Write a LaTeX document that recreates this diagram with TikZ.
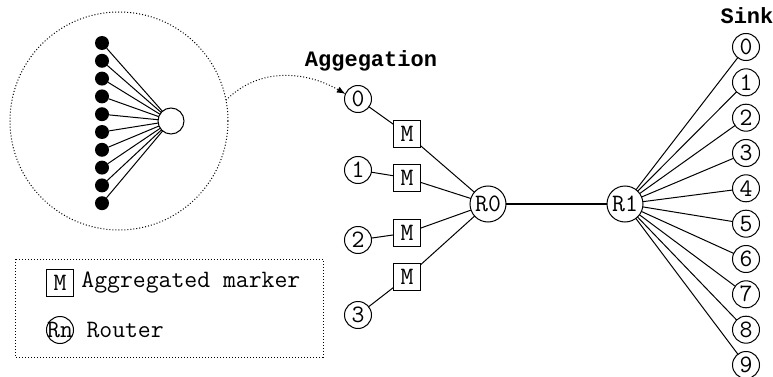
\documentclass[tikz,border=0pt]{standalone}
\usepackage{fontspec}
\newfontfamily\headfont{Liberation Mono}
\usetikzlibrary{positioning}

\begin{document}
\begin{tikzpicture}[x=0.5pt, y=0.5pt, line width=0.5pt]
\tikzset{ >=latex, inner sep=0pt, outer sep=0pt,
  every node/.style={font=\ttfamily\fontsize{12.5}{14}\selectfont},
  head/.style={font=\headfont\bfseries\fontsize{11}{13}\selectfont},
  leaf/.style={draw, circle, minimum size=13.5pt},
  router/.style={draw, circle, minimum size=18pt},
  marker/.style={draw, minimum size=13.5pt},
  dot/.style={fill=black, circle, minimum size=7pt},
}

\useasboundingbox (0,0) rectangle (773,376);
%\draw [lightgray, dashed](0,0) grid [step=50] (773,376);

% inset
\node [draw, circle, densely dotted, minimum size=109pt] (inset) at (119,255) {};
\node [draw, circle, minimum size=13pt] (hub) at (171,255) {};

\node [dot] (d0) at (102,333.0) {};
\node [dot] (d1) at (102,315.2) {};
\node [dot] (d2) at (102,297.4) {};
\node [dot] (d3) at (102,279.6) {};
\node [dot] (d4) at (102,261.8) {};
\node [dot] (d5) at (102,244.0) {};
\node [dot] (d6) at (102,226.2) {};
\node [dot] (d7) at (102,208.4) {};
\node [dot] (d8) at (102,190.6) {};
\node [dot] (d9) at (102,172.8) {};

\draw (d0) -- (hub);
\draw (d1) -- (hub);
\draw (d2) -- (hub);
\draw (d3) -- (hub);
\draw (d4) -- (hub);
\draw (d5) -- (hub);
\draw (d6) -- (hub);
\draw (d7) -- (hub);
\draw (d8) -- (hub);
\draw (d9) -- (hub);

% aggregation side
\node [leaf] (A0) at (358,277) {0};
\node [leaf] (A1) at (358,206) {1};
\node [leaf] (A2) at (358,136) {2};
\node [leaf] (A3) at (358,61) {3};

\node [marker] (M0) at (407,242) {M};
\node [marker] (M1) at (407,198) {M};
\node [marker] (M2) at (407,143) {M};
\node [marker] (M3) at (407,99) {M};

\node [router] (R0) at (488,172) {R0};
\node [router] (R1) at (625,172) {R1};

\draw (A0) -- (M0) -- (R0);
\draw (A1) -- (M1) -- (R0);
\draw (A2) -- (M2) -- (R0);
\draw (A3) -- (M3) -- (R0);

\draw [line width=1pt] (R0) -- (R1);

\draw [->, densely dotted] (inset.11) to [out=45, in=150] (A0.158);

% sink side
\node [leaf] (S0) at (746,329.0) {0};
\node [leaf] (S1) at (746,293.7) {1};
\node [leaf] (S2) at (746,258.3) {2};
\node [leaf] (S3) at (746,223.0) {3};
\node [leaf] (S4) at (746,187.7) {4};
\node [leaf] (S5) at (746,152.3) {5};
\node [leaf] (S6) at (746,117.0) {6};
\node [leaf] (S7) at (746,81.7) {7};
\node [leaf] (S8) at (746,46.3) {8};
\node [leaf] (S9) at (746,11.0) {9};

\draw (R1) -- (S0);
\draw (R1) -- (S1);
\draw (R1) -- (S2);
\draw (R1) -- (S3);
\draw (R1) -- (S4);
\draw (R1) -- (S5);
\draw (R1) -- (S6);
\draw (R1) -- (S7);
\draw (R1) -- (S8);
\draw (R1) -- (S9);

\node [head] (agg) at (371,315) {Aggegation};
\node [head] (sink) at (747,360) {Sink};

% legend
\draw [densely dotted] (15,117) rectangle (323,19);
\node [marker] (LM) at (60,93) {M};
\node [right=4pt of LM] (LMtext) {Aggregated marker};
\node [leaf] (LR) at (60,46) {\makebox[0pt]{Rn}};
\node [right=6.5pt of LR] (LRtext) {Router};

\end{tikzpicture}
\end{document}
